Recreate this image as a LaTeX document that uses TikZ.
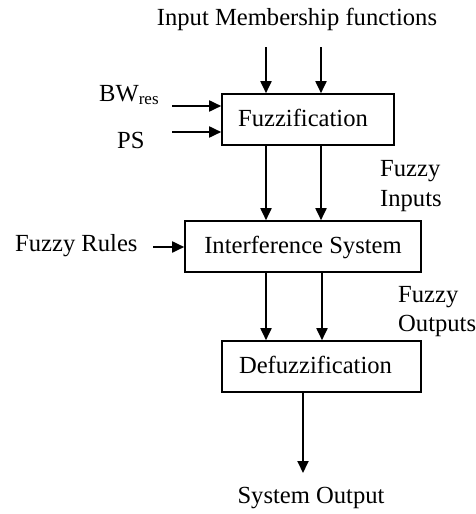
\documentclass[tikz,border=0pt]{standalone}
\usepackage{fontspec}
\setmainfont{Liberation Serif}
\usetikzlibrary{arrows.meta}
\begin{document}
\begin{tikzpicture}[x=1pt,y=-1pt,
  every node/.style={font=\fontsize{24.6}{29.5}\selectfont, inner sep=0pt},
  blk/.style={draw, line width=1.6pt, minimum height=51pt, text height=16.3pt, text depth=3.3pt},
  lbl/.style={anchor=base},
  lblw/.style={anchor=base west},
  arr/.style={line width=1.8pt, -{Triangle[length=12pt,width=11pt]}}]
\useasboundingbox (0,0) rectangle (476,514);
\node[blk, minimum width=172pt] (fz) at (308,119.5) {Fuzzification\kern10pt};
\node[blk, minimum width=236pt] (is) at (303,246.5) {Interference System};
\node[blk, minimum width=199pt] (df) at (321.5,366.5) {Defuzzification\kern12pt};
\node[lbl] (imf) at (297,25) {Input Membership functions};
\node[lblw] (bw) at (99,101) {BW\raisebox{-3pt}{\fontsize{17}{17}\selectfont res}};
\node[lblw] (ps) at (117,148) {PS};
\node[lblw] (fr) at (15,251) {Fuzzy Rules};
\node[lblw] (fi1) at (380,176) {Fuzzy};
\node[lblw] (fi2) at (380,206) {Inputs};
\node[lblw] (fo1) at (398,302) {Fuzzy};
\node[lblw] (fo2) at (398,331) {Outputs};
\node[lbl] (so) at (311,503) {System Output};
\coordinate (a1) at (266,47);
\coordinate (a2) at (321,47);
\coordinate (b1) at (172,106);
\coordinate (b2) at (172,132);
\coordinate (r) at (153,247);
\coordinate (c1) at (266,0);
\coordinate (c2) at (321,0);
\coordinate (d1) at (266,0);
\coordinate (d2) at (322,0);
\coordinate (o) at (303,473);
\draw[arr] (a1) -- (a1 |- fz.north);
\draw[arr] (a2) -- (a2 |- fz.north);
\draw[arr] (b1) -- (b1 -| fz.west);
\draw[arr] (b2) -- (b2 -| fz.west);
\draw[arr] (c1 |- fz.south) -- (c1 |- is.north);
\draw[arr] (c2 |- fz.south) -- (c2 |- is.north);
\draw[arr] (r) -- (r -| is.west);
\draw[arr] (d1 |- is.south) -- (d1 |- df.north);
\draw[arr] (d2 |- is.south) -- (d2 |- df.north);
\draw[arr] (o |- df.south) -- (o);
\end{tikzpicture}
\end{document}
